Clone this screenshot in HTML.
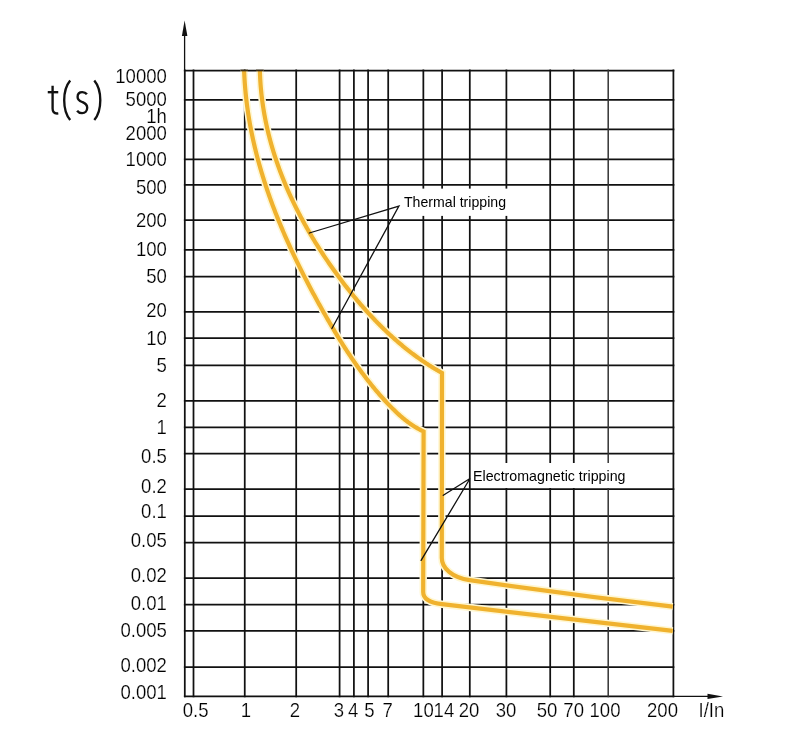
<!DOCTYPE html><html><head><meta charset="utf-8"><style>html,body{margin:0;padding:0;background:#fff;}svg{display:block;will-change:transform;}text{font-family:"Liberation Sans",sans-serif;}</style></head><body>
<svg width="800" height="743" viewBox="0 0 800 743">
<rect width="800" height="743" fill="#fff"/>
<g stroke="#111" stroke-width="1.75"><line x1="183.9" y1="70.50" x2="674.3" y2="70.50"/><line x1="183.9" y1="99.75" x2="674.3" y2="99.75"/><line x1="183.9" y1="129.40" x2="674.3" y2="129.40"/><line x1="183.9" y1="159.30" x2="674.3" y2="159.30"/><line x1="183.9" y1="184.90" x2="674.3" y2="184.90"/><line x1="183.9" y1="220.20" x2="674.3" y2="220.20"/><line x1="183.9" y1="249.90" x2="674.3" y2="249.90"/><line x1="183.9" y1="276.60" x2="674.3" y2="276.60"/><line x1="183.9" y1="311.90" x2="674.3" y2="311.90"/><line x1="183.9" y1="338.20" x2="674.3" y2="338.20"/><line x1="183.9" y1="365.40" x2="674.3" y2="365.40"/><line x1="183.9" y1="400.80" x2="674.3" y2="400.80"/><line x1="183.9" y1="427.30" x2="674.3" y2="427.30"/><line x1="183.9" y1="453.70" x2="674.3" y2="453.70"/><line x1="183.9" y1="489.00" x2="674.3" y2="489.00"/><line x1="183.9" y1="516.20" x2="674.3" y2="516.20"/><line x1="183.9" y1="542.70" x2="674.3" y2="542.70"/><line x1="183.9" y1="578.10" x2="674.3" y2="578.10"/><line x1="183.9" y1="604.50" x2="674.3" y2="604.50"/><line x1="183.9" y1="630.80" x2="674.3" y2="630.80"/><line x1="183.9" y1="667.20" x2="674.3" y2="667.20"/><line x1="183.9" y1="696.40" x2="674.3" y2="696.40"/><line x1="184.80" y1="69.6" x2="184.80" y2="697.3"/><line x1="193.50" y1="69.6" x2="193.50" y2="697.3"/><line x1="244.75" y1="69.6" x2="244.75" y2="697.3"/><line x1="296.20" y1="69.6" x2="296.20" y2="697.3"/><line x1="339.60" y1="69.6" x2="339.60" y2="697.3"/><line x1="353.90" y1="69.6" x2="353.90" y2="697.3"/><line x1="368.10" y1="69.6" x2="368.10" y2="697.3"/><line x1="388.20" y1="69.6" x2="388.20" y2="697.3"/><line x1="423.35" y1="69.6" x2="423.35" y2="697.3"/><line x1="442.10" y1="69.6" x2="442.10" y2="697.3"/><line x1="469.80" y1="69.6" x2="469.80" y2="697.3"/><line x1="506.40" y1="69.6" x2="506.40" y2="697.3"/><line x1="550.20" y1="69.6" x2="550.20" y2="697.3"/><line x1="573.80" y1="69.6" x2="573.80" y2="697.3"/><line x1="608.20" y1="69.6" x2="608.20" y2="697.3" stroke="#333" stroke-width="1.5"/><line x1="673.40" y1="69.6" x2="673.40" y2="697.3"/></g>
<g stroke="#111" stroke-width="1.3"><line x1="184.6" y1="34" x2="184.6" y2="71"/><line x1="673" y1="696.4" x2="710" y2="696.4"/></g>
<path d="M184.6 20.5 L181.9 36 L187.4 36 Z" fill="#111"/>
<path d="M723 696.4 L707.5 693.7 L707.5 699.1 Z" fill="#111"/>
<rect x="396" y="188.6" width="120" height="27.3" fill="#fff"/>
<rect x="471.2" y="463" width="165" height="25.0" fill="#fff"/>
<g stroke="#FFF7D2" stroke-width="7.40" fill="none" stroke-linejoin="miter" stroke-miterlimit="10"><path d="M 244.10 70.00 L 244.15 71.40 L 244.21 72.80 L 244.27 74.20 L 244.34 75.60 L 244.41 76.99 L 244.49 78.39 L 244.57 79.79 L 244.66 81.18 L 244.75 82.57 L 244.85 83.97 L 244.96 85.36 L 245.07 86.75 L 245.18 88.14 L 245.30 89.52 L 245.43 90.91 L 245.56 92.30 L 245.69 93.68 L 245.83 95.07 L 245.98 96.45 L 246.13 97.83 L 246.29 99.21 L 246.45 100.59 L 246.61 101.97 L 246.78 103.35 L 246.96 104.73 L 247.14 106.11 L 247.33 107.48 L 247.52 108.86 L 247.71 110.23 L 247.91 111.60 L 248.12 112.97 L 248.33 114.34 L 248.54 115.71 L 248.76 117.08 L 248.98 118.45 L 249.21 119.82 L 249.45 121.18 L 249.68 122.55 L 249.93 123.91 L 250.17 125.27 L 250.43 126.63 L 250.68 127.99 L 250.94 129.35 L 251.21 130.71 L 251.48 132.07 L 251.75 133.42 L 252.03 134.78 L 252.32 136.13 L 252.60 137.49 L 252.90 138.84 L 253.19 140.19 L 253.49 141.54 L 253.80 142.89 L 254.11 144.24 L 254.42 145.59 L 254.74 146.93 L 255.06 148.28 L 255.39 149.62 L 255.72 150.97 L 256.06 152.31 L 256.40 153.65 L 256.74 154.99 L 257.09 156.33 L 257.44 157.67 L 257.79 159.01 L 258.15 160.34 L 258.52 161.68 L 258.88 163.01 L 259.25 164.34 L 259.63 165.68 L 260.01 167.01 L 260.39 168.34 L 260.78 169.67 L 261.17 171.00 L 261.57 172.32 L 261.96 173.65 L 262.37 174.97 L 262.77 176.30 L 263.18 177.62 L 263.60 178.94 L 264.01 180.26 L 264.44 181.58 L 264.86 182.90 L 265.29 184.22 L 265.72 185.54 L 266.16 186.85 L 266.60 188.17 L 267.04 189.48 L 267.49 190.79 L 267.94 192.11 L 268.39 193.42 L 268.85 194.73 L 269.31 196.03 L 269.77 197.34 L 270.24 198.65 L 270.71 199.95 L 271.18 201.26 L 271.66 202.56 L 272.14 203.86 L 272.62 205.16 L 273.11 206.47 L 273.60 207.76 L 274.09 209.06 L 274.59 210.36 L 275.09 211.66 L 275.59 212.95 L 276.10 214.24 L 276.61 215.54 L 277.12 216.83 L 277.64 218.12 L 278.15 219.41 L 278.68 220.70 L 279.20 221.99 L 279.73 223.27 L 280.26 224.56 L 280.79 225.84 L 281.33 227.13 L 281.87 228.41 L 282.41 229.69 L 282.95 230.97 L 283.50 232.25 L 284.05 233.53 L 284.60 234.81 L 285.16 236.08 L 285.72 237.36 L 286.28 238.63 L 286.85 239.91 L 287.41 241.18 L 287.98 242.45 L 288.55 243.72 L 289.13 244.99 L 289.71 246.25 L 290.29 247.52 L 290.87 248.79 L 291.45 250.05 L 292.04 251.32 L 292.63 252.58 L 293.22 253.84 L 293.82 255.10 L 294.41 256.36 L 295.01 257.62 L 295.62 258.87 L 296.22 260.13 L 296.83 261.39 L 297.43 262.64 L 298.05 263.89 L 298.66 265.14 L 299.27 266.39 L 299.89 267.64 L 300.51 268.89 L 301.13 270.14 L 301.76 271.39 L 302.39 272.63 L 303.01 273.88 L 303.64 275.12 L 304.28 276.36 L 304.91 277.60 L 305.55 278.84 L 306.19 280.08 L 306.83 281.32 L 307.47 282.56 L 308.11 283.79 L 308.76 285.03 L 309.41 286.26 L 310.06 287.49 L 310.71 288.72 L 311.36 289.95 L 312.02 291.18 L 312.68 292.41 L 313.34 293.64 L 314.00 294.86 L 314.66 296.09 L 315.32 297.31 L 315.99 298.54 L 316.66 299.76 L 317.33 300.98 L 318.00 302.20 L 318.67 303.42 L 319.34 304.63 L 320.02 305.85 L 320.69 307.06 L 321.37 308.28 L 322.05 309.49 L 322.73 310.70 L 323.41 311.91 L 324.10 313.12 L 324.78 314.33 L 325.47 315.54 L 326.16 316.75 L 326.85 317.95 L 327.54 319.15 L 328.23 320.36 L 328.93 321.56 L 329.62 322.76 L 330.32 323.96 L 331.02 325.15 L 331.73 326.35 L 332.43 327.54 L 333.14 328.74 L 333.84 329.93 L 334.56 331.12 L 335.27 332.31 L 335.98 333.49 L 336.70 334.68 L 337.42 335.86 L 338.14 337.04 L 338.87 338.22 L 339.59 339.40 L 340.32 340.57 L 341.05 341.75 L 341.79 342.92 L 342.53 344.09 L 343.27 345.26 L 344.01 346.43 L 344.75 347.59 L 345.50 348.75 L 346.25 349.91 L 347.01 351.07 L 347.77 352.23 L 348.53 353.38 L 349.29 354.53 L 350.06 355.68 L 350.83 356.83 L 351.60 357.98 L 352.38 359.12 L 353.16 360.26 L 353.94 361.40 L 354.73 362.53 L 355.52 363.67 L 356.31 364.80 L 357.11 365.92 L 357.91 367.05 L 358.72 368.17 L 359.52 369.29 L 360.34 370.41 L 361.15 371.53 L 361.97 372.64 L 362.80 373.75 L 363.63 374.86 L 364.46 375.96 L 365.30 377.06 L 366.14 378.16 L 366.98 379.26 L 367.83 380.35 L 368.69 381.44 L 369.54 382.53 L 370.41 383.61 L 371.27 384.69 L 372.15 385.77 L 373.02 386.85 L 373.90 387.92 L 374.79 388.99 L 375.68 390.05 L 376.57 391.11 L 377.47 392.17 L 378.38 393.23 L 379.29 394.28 L 380.20 395.33 L 381.12 396.38 L 382.05 397.42 L 382.98 398.46 L 383.91 399.49 L 384.85 400.53 L 385.80 401.55 L 386.75 402.58 L 387.71 403.60 L 388.67 404.62 L 389.64 405.63 L 390.61 406.63 L 391.59 407.63 L 392.58 408.62 L 393.58 409.61 L 394.58 410.58 L 395.58 411.55 L 396.60 412.51 L 397.62 413.46 L 398.65 414.40 L 399.69 415.33 L 400.73 416.25 L 401.79 417.16 L 402.85 418.05 L 403.92 418.94 L 405.00 419.81 L 406.09 420.66 L 407.18 421.50 L 408.29 422.33 L 409.41 423.14 L 410.53 423.94 L 411.67 424.72 L 412.81 425.48 L 413.97 426.23 L 415.13 426.95 L 416.31 427.66 L 417.50 428.35 L 418.69 429.02 L 419.90 429.67 L 421.12 430.30 L 422.36 430.91 L 423.60 431.50 L 423.2 592 C 423.2 599 429 602.7 442 604.2 L 672.8 630.85"/><path d="M 259.85 70.00 L 259.88 71.24 L 259.92 72.48 L 259.96 73.72 L 260.01 74.96 L 260.07 76.20 L 260.13 77.44 L 260.19 78.67 L 260.26 79.91 L 260.34 81.14 L 260.42 82.38 L 260.50 83.61 L 260.59 84.84 L 260.69 86.07 L 260.79 87.30 L 260.90 88.53 L 261.01 89.75 L 261.13 90.98 L 261.25 92.20 L 261.38 93.43 L 261.51 94.65 L 261.65 95.87 L 261.79 97.09 L 261.94 98.31 L 262.09 99.53 L 262.25 100.75 L 262.42 101.97 L 262.58 103.18 L 262.76 104.40 L 262.93 105.61 L 263.12 106.82 L 263.31 108.03 L 263.50 109.24 L 263.70 110.45 L 263.90 111.66 L 264.11 112.86 L 264.32 114.07 L 264.54 115.27 L 264.76 116.48 L 264.98 117.68 L 265.22 118.88 L 265.45 120.08 L 265.69 121.28 L 265.94 122.48 L 266.19 123.67 L 266.44 124.87 L 266.70 126.06 L 266.97 127.25 L 267.24 128.45 L 267.51 129.64 L 267.79 130.82 L 268.07 132.01 L 268.36 133.20 L 268.65 134.39 L 268.95 135.57 L 269.25 136.75 L 269.56 137.94 L 269.86 139.12 L 270.18 140.30 L 270.50 141.47 L 270.82 142.65 L 271.15 143.83 L 271.48 145.00 L 271.82 146.18 L 272.16 147.35 L 272.50 148.52 L 272.85 149.69 L 273.21 150.86 L 273.56 152.02 L 273.93 153.19 L 274.29 154.36 L 274.66 155.52 L 275.04 156.68 L 275.42 157.84 L 275.80 159.00 L 276.19 160.16 L 276.58 161.32 L 276.98 162.47 L 277.38 163.63 L 277.78 164.78 L 278.19 165.93 L 278.60 167.08 L 279.01 168.23 L 279.43 169.38 L 279.86 170.53 L 280.29 171.67 L 280.72 172.82 L 281.15 173.96 L 281.59 175.10 L 282.04 176.24 L 282.49 177.38 L 282.94 178.52 L 283.39 179.65 L 283.85 180.79 L 284.32 181.92 L 284.78 183.05 L 285.25 184.18 L 285.73 185.31 L 286.21 186.44 L 286.69 187.56 L 287.17 188.69 L 287.66 189.81 L 288.15 190.94 L 288.65 192.06 L 289.15 193.18 L 289.66 194.29 L 290.16 195.41 L 290.67 196.52 L 291.19 197.64 L 291.71 198.75 L 292.23 199.86 L 292.75 200.97 L 293.28 202.08 L 293.82 203.18 L 294.35 204.29 L 294.89 205.39 L 295.43 206.50 L 295.98 207.60 L 296.53 208.69 L 297.08 209.79 L 297.64 210.89 L 298.20 211.98 L 298.76 213.08 L 299.33 214.17 L 299.90 215.26 L 300.47 216.35 L 301.05 217.43 L 301.62 218.52 L 302.21 219.60 L 302.79 220.69 L 303.38 221.77 L 303.97 222.85 L 304.57 223.93 L 305.17 225.00 L 305.77 226.08 L 306.37 227.15 L 306.98 228.22 L 307.59 229.29 L 308.21 230.36 L 308.82 231.43 L 309.44 232.50 L 310.07 233.56 L 310.69 234.62 L 311.32 235.68 L 311.95 236.74 L 312.59 237.80 L 313.23 238.86 L 313.87 239.91 L 314.51 240.97 L 315.16 242.02 L 315.80 243.07 L 316.46 244.12 L 317.11 245.16 L 317.77 246.21 L 318.43 247.25 L 319.09 248.29 L 319.76 249.33 L 320.43 250.37 L 321.10 251.41 L 321.77 252.44 L 322.45 253.48 L 323.13 254.51 L 323.81 255.54 L 324.49 256.57 L 325.18 257.60 L 325.87 258.62 L 326.56 259.65 L 327.26 260.67 L 327.95 261.69 L 328.65 262.71 L 329.36 263.72 L 330.06 264.74 L 330.77 265.75 L 331.48 266.76 L 332.19 267.78 L 332.90 268.78 L 333.62 269.79 L 334.34 270.80 L 335.06 271.80 L 335.79 272.80 L 336.51 273.80 L 337.24 274.80 L 337.97 275.80 L 338.70 276.79 L 339.44 277.78 L 340.18 278.77 L 340.92 279.76 L 341.66 280.75 L 342.40 281.74 L 343.15 282.72 L 343.90 283.70 L 344.65 284.68 L 345.40 285.66 L 346.16 286.64 L 346.92 287.61 L 347.68 288.58 L 348.44 289.55 L 349.21 290.52 L 349.97 291.49 L 350.74 292.45 L 351.52 293.41 L 352.29 294.37 L 353.07 295.33 L 353.85 296.28 L 354.63 297.23 L 355.42 298.18 L 356.20 299.13 L 356.99 300.08 L 357.79 301.02 L 358.58 301.96 L 359.38 302.90 L 360.18 303.83 L 360.98 304.77 L 361.79 305.70 L 362.60 306.62 L 363.41 307.55 L 364.22 308.47 L 365.04 309.39 L 365.85 310.31 L 366.67 311.22 L 367.50 312.13 L 368.32 313.04 L 369.15 313.95 L 369.99 314.85 L 370.82 315.75 L 371.66 316.65 L 372.50 317.54 L 373.34 318.44 L 374.18 319.32 L 375.03 320.21 L 375.88 321.09 L 376.74 321.97 L 377.59 322.85 L 378.45 323.72 L 379.32 324.59 L 380.18 325.46 L 381.05 326.32 L 381.92 327.18 L 382.79 328.04 L 383.67 328.89 L 384.55 329.74 L 385.43 330.59 L 386.32 331.43 L 387.20 332.27 L 388.10 333.11 L 388.99 333.94 L 389.89 334.77 L 390.79 335.60 L 391.69 336.42 L 392.60 337.24 L 393.51 338.06 L 394.42 338.87 L 395.33 339.68 L 396.25 340.48 L 397.17 341.28 L 398.10 342.08 L 399.02 342.87 L 399.95 343.66 L 400.89 344.45 L 401.82 345.23 L 402.76 346.01 L 403.71 346.78 L 404.65 347.55 L 405.60 348.32 L 406.56 349.08 L 407.51 349.84 L 408.47 350.59 L 409.43 351.34 L 410.40 352.09 L 411.37 352.83 L 412.34 353.57 L 413.31 354.30 L 414.29 355.03 L 415.27 355.75 L 416.26 356.47 L 417.25 357.19 L 418.24 357.90 L 419.24 358.61 L 420.23 359.31 L 421.24 360.01 L 422.24 360.70 L 423.25 361.39 L 424.26 362.08 L 425.28 362.76 L 426.30 363.43 L 427.32 364.11 L 428.34 364.77 L 429.37 365.43 L 430.41 366.09 L 431.44 366.74 L 432.48 367.39 L 433.52 368.03 L 434.57 368.67 L 435.62 369.31 L 436.68 369.93 L 437.73 370.56 L 438.79 371.18 L 439.86 371.79 L 440.93 372.40 L 442.00 373.00 L 441.8 558 C 441.8 568 452 577.6 469.7 580.15 Q 571.25 594.82 672.8 606.6"/></g>
<g stroke="#F0B22E" stroke-width="4.20" fill="none" stroke-linejoin="miter" stroke-miterlimit="10"><path d="M 244.10 70.00 L 244.15 71.40 L 244.21 72.80 L 244.27 74.20 L 244.34 75.60 L 244.41 76.99 L 244.49 78.39 L 244.57 79.79 L 244.66 81.18 L 244.75 82.57 L 244.85 83.97 L 244.96 85.36 L 245.07 86.75 L 245.18 88.14 L 245.30 89.52 L 245.43 90.91 L 245.56 92.30 L 245.69 93.68 L 245.83 95.07 L 245.98 96.45 L 246.13 97.83 L 246.29 99.21 L 246.45 100.59 L 246.61 101.97 L 246.78 103.35 L 246.96 104.73 L 247.14 106.11 L 247.33 107.48 L 247.52 108.86 L 247.71 110.23 L 247.91 111.60 L 248.12 112.97 L 248.33 114.34 L 248.54 115.71 L 248.76 117.08 L 248.98 118.45 L 249.21 119.82 L 249.45 121.18 L 249.68 122.55 L 249.93 123.91 L 250.17 125.27 L 250.43 126.63 L 250.68 127.99 L 250.94 129.35 L 251.21 130.71 L 251.48 132.07 L 251.75 133.42 L 252.03 134.78 L 252.32 136.13 L 252.60 137.49 L 252.90 138.84 L 253.19 140.19 L 253.49 141.54 L 253.80 142.89 L 254.11 144.24 L 254.42 145.59 L 254.74 146.93 L 255.06 148.28 L 255.39 149.62 L 255.72 150.97 L 256.06 152.31 L 256.40 153.65 L 256.74 154.99 L 257.09 156.33 L 257.44 157.67 L 257.79 159.01 L 258.15 160.34 L 258.52 161.68 L 258.88 163.01 L 259.25 164.34 L 259.63 165.68 L 260.01 167.01 L 260.39 168.34 L 260.78 169.67 L 261.17 171.00 L 261.57 172.32 L 261.96 173.65 L 262.37 174.97 L 262.77 176.30 L 263.18 177.62 L 263.60 178.94 L 264.01 180.26 L 264.44 181.58 L 264.86 182.90 L 265.29 184.22 L 265.72 185.54 L 266.16 186.85 L 266.60 188.17 L 267.04 189.48 L 267.49 190.79 L 267.94 192.11 L 268.39 193.42 L 268.85 194.73 L 269.31 196.03 L 269.77 197.34 L 270.24 198.65 L 270.71 199.95 L 271.18 201.26 L 271.66 202.56 L 272.14 203.86 L 272.62 205.16 L 273.11 206.47 L 273.60 207.76 L 274.09 209.06 L 274.59 210.36 L 275.09 211.66 L 275.59 212.95 L 276.10 214.24 L 276.61 215.54 L 277.12 216.83 L 277.64 218.12 L 278.15 219.41 L 278.68 220.70 L 279.20 221.99 L 279.73 223.27 L 280.26 224.56 L 280.79 225.84 L 281.33 227.13 L 281.87 228.41 L 282.41 229.69 L 282.95 230.97 L 283.50 232.25 L 284.05 233.53 L 284.60 234.81 L 285.16 236.08 L 285.72 237.36 L 286.28 238.63 L 286.85 239.91 L 287.41 241.18 L 287.98 242.45 L 288.55 243.72 L 289.13 244.99 L 289.71 246.25 L 290.29 247.52 L 290.87 248.79 L 291.45 250.05 L 292.04 251.32 L 292.63 252.58 L 293.22 253.84 L 293.82 255.10 L 294.41 256.36 L 295.01 257.62 L 295.62 258.87 L 296.22 260.13 L 296.83 261.39 L 297.43 262.64 L 298.05 263.89 L 298.66 265.14 L 299.27 266.39 L 299.89 267.64 L 300.51 268.89 L 301.13 270.14 L 301.76 271.39 L 302.39 272.63 L 303.01 273.88 L 303.64 275.12 L 304.28 276.36 L 304.91 277.60 L 305.55 278.84 L 306.19 280.08 L 306.83 281.32 L 307.47 282.56 L 308.11 283.79 L 308.76 285.03 L 309.41 286.26 L 310.06 287.49 L 310.71 288.72 L 311.36 289.95 L 312.02 291.18 L 312.68 292.41 L 313.34 293.64 L 314.00 294.86 L 314.66 296.09 L 315.32 297.31 L 315.99 298.54 L 316.66 299.76 L 317.33 300.98 L 318.00 302.20 L 318.67 303.42 L 319.34 304.63 L 320.02 305.85 L 320.69 307.06 L 321.37 308.28 L 322.05 309.49 L 322.73 310.70 L 323.41 311.91 L 324.10 313.12 L 324.78 314.33 L 325.47 315.54 L 326.16 316.75 L 326.85 317.95 L 327.54 319.15 L 328.23 320.36 L 328.93 321.56 L 329.62 322.76 L 330.32 323.96 L 331.02 325.15 L 331.73 326.35 L 332.43 327.54 L 333.14 328.74 L 333.84 329.93 L 334.56 331.12 L 335.27 332.31 L 335.98 333.49 L 336.70 334.68 L 337.42 335.86 L 338.14 337.04 L 338.87 338.22 L 339.59 339.40 L 340.32 340.57 L 341.05 341.75 L 341.79 342.92 L 342.53 344.09 L 343.27 345.26 L 344.01 346.43 L 344.75 347.59 L 345.50 348.75 L 346.25 349.91 L 347.01 351.07 L 347.77 352.23 L 348.53 353.38 L 349.29 354.53 L 350.06 355.68 L 350.83 356.83 L 351.60 357.98 L 352.38 359.12 L 353.16 360.26 L 353.94 361.40 L 354.73 362.53 L 355.52 363.67 L 356.31 364.80 L 357.11 365.92 L 357.91 367.05 L 358.72 368.17 L 359.52 369.29 L 360.34 370.41 L 361.15 371.53 L 361.97 372.64 L 362.80 373.75 L 363.63 374.86 L 364.46 375.96 L 365.30 377.06 L 366.14 378.16 L 366.98 379.26 L 367.83 380.35 L 368.69 381.44 L 369.54 382.53 L 370.41 383.61 L 371.27 384.69 L 372.15 385.77 L 373.02 386.85 L 373.90 387.92 L 374.79 388.99 L 375.68 390.05 L 376.57 391.11 L 377.47 392.17 L 378.38 393.23 L 379.29 394.28 L 380.20 395.33 L 381.12 396.38 L 382.05 397.42 L 382.98 398.46 L 383.91 399.49 L 384.85 400.53 L 385.80 401.55 L 386.75 402.58 L 387.71 403.60 L 388.67 404.62 L 389.64 405.63 L 390.61 406.63 L 391.59 407.63 L 392.58 408.62 L 393.58 409.61 L 394.58 410.58 L 395.58 411.55 L 396.60 412.51 L 397.62 413.46 L 398.65 414.40 L 399.69 415.33 L 400.73 416.25 L 401.79 417.16 L 402.85 418.05 L 403.92 418.94 L 405.00 419.81 L 406.09 420.66 L 407.18 421.50 L 408.29 422.33 L 409.41 423.14 L 410.53 423.94 L 411.67 424.72 L 412.81 425.48 L 413.97 426.23 L 415.13 426.95 L 416.31 427.66 L 417.50 428.35 L 418.69 429.02 L 419.90 429.67 L 421.12 430.30 L 422.36 430.91 L 423.60 431.50 L 423.2 592 C 423.2 599 429 602.7 442 604.2 L 672.8 630.85"/><path d="M 259.85 70.00 L 259.88 71.24 L 259.92 72.48 L 259.96 73.72 L 260.01 74.96 L 260.07 76.20 L 260.13 77.44 L 260.19 78.67 L 260.26 79.91 L 260.34 81.14 L 260.42 82.38 L 260.50 83.61 L 260.59 84.84 L 260.69 86.07 L 260.79 87.30 L 260.90 88.53 L 261.01 89.75 L 261.13 90.98 L 261.25 92.20 L 261.38 93.43 L 261.51 94.65 L 261.65 95.87 L 261.79 97.09 L 261.94 98.31 L 262.09 99.53 L 262.25 100.75 L 262.42 101.97 L 262.58 103.18 L 262.76 104.40 L 262.93 105.61 L 263.12 106.82 L 263.31 108.03 L 263.50 109.24 L 263.70 110.45 L 263.90 111.66 L 264.11 112.86 L 264.32 114.07 L 264.54 115.27 L 264.76 116.48 L 264.98 117.68 L 265.22 118.88 L 265.45 120.08 L 265.69 121.28 L 265.94 122.48 L 266.19 123.67 L 266.44 124.87 L 266.70 126.06 L 266.97 127.25 L 267.24 128.45 L 267.51 129.64 L 267.79 130.82 L 268.07 132.01 L 268.36 133.20 L 268.65 134.39 L 268.95 135.57 L 269.25 136.75 L 269.56 137.94 L 269.86 139.12 L 270.18 140.30 L 270.50 141.47 L 270.82 142.65 L 271.15 143.83 L 271.48 145.00 L 271.82 146.18 L 272.16 147.35 L 272.50 148.52 L 272.85 149.69 L 273.21 150.86 L 273.56 152.02 L 273.93 153.19 L 274.29 154.36 L 274.66 155.52 L 275.04 156.68 L 275.42 157.84 L 275.80 159.00 L 276.19 160.16 L 276.58 161.32 L 276.98 162.47 L 277.38 163.63 L 277.78 164.78 L 278.19 165.93 L 278.60 167.08 L 279.01 168.23 L 279.43 169.38 L 279.86 170.53 L 280.29 171.67 L 280.72 172.82 L 281.15 173.96 L 281.59 175.10 L 282.04 176.24 L 282.49 177.38 L 282.94 178.52 L 283.39 179.65 L 283.85 180.79 L 284.32 181.92 L 284.78 183.05 L 285.25 184.18 L 285.73 185.31 L 286.21 186.44 L 286.69 187.56 L 287.17 188.69 L 287.66 189.81 L 288.15 190.94 L 288.65 192.06 L 289.15 193.18 L 289.66 194.29 L 290.16 195.41 L 290.67 196.52 L 291.19 197.64 L 291.71 198.75 L 292.23 199.86 L 292.75 200.97 L 293.28 202.08 L 293.82 203.18 L 294.35 204.29 L 294.89 205.39 L 295.43 206.50 L 295.98 207.60 L 296.53 208.69 L 297.08 209.79 L 297.64 210.89 L 298.20 211.98 L 298.76 213.08 L 299.33 214.17 L 299.90 215.26 L 300.47 216.35 L 301.05 217.43 L 301.62 218.52 L 302.21 219.60 L 302.79 220.69 L 303.38 221.77 L 303.97 222.85 L 304.57 223.93 L 305.17 225.00 L 305.77 226.08 L 306.37 227.15 L 306.98 228.22 L 307.59 229.29 L 308.21 230.36 L 308.82 231.43 L 309.44 232.50 L 310.07 233.56 L 310.69 234.62 L 311.32 235.68 L 311.95 236.74 L 312.59 237.80 L 313.23 238.86 L 313.87 239.91 L 314.51 240.97 L 315.16 242.02 L 315.80 243.07 L 316.46 244.12 L 317.11 245.16 L 317.77 246.21 L 318.43 247.25 L 319.09 248.29 L 319.76 249.33 L 320.43 250.37 L 321.10 251.41 L 321.77 252.44 L 322.45 253.48 L 323.13 254.51 L 323.81 255.54 L 324.49 256.57 L 325.18 257.60 L 325.87 258.62 L 326.56 259.65 L 327.26 260.67 L 327.95 261.69 L 328.65 262.71 L 329.36 263.72 L 330.06 264.74 L 330.77 265.75 L 331.48 266.76 L 332.19 267.78 L 332.90 268.78 L 333.62 269.79 L 334.34 270.80 L 335.06 271.80 L 335.79 272.80 L 336.51 273.80 L 337.24 274.80 L 337.97 275.80 L 338.70 276.79 L 339.44 277.78 L 340.18 278.77 L 340.92 279.76 L 341.66 280.75 L 342.40 281.74 L 343.15 282.72 L 343.90 283.70 L 344.65 284.68 L 345.40 285.66 L 346.16 286.64 L 346.92 287.61 L 347.68 288.58 L 348.44 289.55 L 349.21 290.52 L 349.97 291.49 L 350.74 292.45 L 351.52 293.41 L 352.29 294.37 L 353.07 295.33 L 353.85 296.28 L 354.63 297.23 L 355.42 298.18 L 356.20 299.13 L 356.99 300.08 L 357.79 301.02 L 358.58 301.96 L 359.38 302.90 L 360.18 303.83 L 360.98 304.77 L 361.79 305.70 L 362.60 306.62 L 363.41 307.55 L 364.22 308.47 L 365.04 309.39 L 365.85 310.31 L 366.67 311.22 L 367.50 312.13 L 368.32 313.04 L 369.15 313.95 L 369.99 314.85 L 370.82 315.75 L 371.66 316.65 L 372.50 317.54 L 373.34 318.44 L 374.18 319.32 L 375.03 320.21 L 375.88 321.09 L 376.74 321.97 L 377.59 322.85 L 378.45 323.72 L 379.32 324.59 L 380.18 325.46 L 381.05 326.32 L 381.92 327.18 L 382.79 328.04 L 383.67 328.89 L 384.55 329.74 L 385.43 330.59 L 386.32 331.43 L 387.20 332.27 L 388.10 333.11 L 388.99 333.94 L 389.89 334.77 L 390.79 335.60 L 391.69 336.42 L 392.60 337.24 L 393.51 338.06 L 394.42 338.87 L 395.33 339.68 L 396.25 340.48 L 397.17 341.28 L 398.10 342.08 L 399.02 342.87 L 399.95 343.66 L 400.89 344.45 L 401.82 345.23 L 402.76 346.01 L 403.71 346.78 L 404.65 347.55 L 405.60 348.32 L 406.56 349.08 L 407.51 349.84 L 408.47 350.59 L 409.43 351.34 L 410.40 352.09 L 411.37 352.83 L 412.34 353.57 L 413.31 354.30 L 414.29 355.03 L 415.27 355.75 L 416.26 356.47 L 417.25 357.19 L 418.24 357.90 L 419.24 358.61 L 420.23 359.31 L 421.24 360.01 L 422.24 360.70 L 423.25 361.39 L 424.26 362.08 L 425.28 362.76 L 426.30 363.43 L 427.32 364.11 L 428.34 364.77 L 429.37 365.43 L 430.41 366.09 L 431.44 366.74 L 432.48 367.39 L 433.52 368.03 L 434.57 368.67 L 435.62 369.31 L 436.68 369.93 L 437.73 370.56 L 438.79 371.18 L 439.86 371.79 L 440.93 372.40 L 442.00 373.00 L 441.8 558 C 441.8 568 452 577.6 469.7 580.15 Q 571.25 594.82 672.8 606.6"/></g>
<g stroke="#3a2c12" stroke-width="1.75"><line x1="240.5" y1="70.5" x2="248" y2="70.5"/><line x1="256" y1="70.5" x2="263.7" y2="70.5"/></g>
<g stroke="#111" stroke-width="1.3" fill="none" stroke-linecap="round"><path d="M309.3 233 L398.9 206.1 L331.9 328.5"/><path d="M443.3 495.3 L470 478.5 L421.1 560.4"/></g>
<text x="404" y="206.9" font-size="14.6" textLength="102" lengthAdjust="spacingAndGlyphs" fill="#000">Thermal tripping</text>
<text x="473" y="480.9" font-size="14.6" textLength="152.5" lengthAdjust="spacingAndGlyphs" fill="#000">Electromagnetic tripping</text>
<g transform="scale(0.910 1)" font-size="20.4" fill="#000" stroke="#fff" stroke-width="0.22"><text x="183.41" y="83.00" text-anchor="end">10000</text><text x="183.41" y="105.60" text-anchor="end">5000</text><text x="183.41" y="122.80" text-anchor="end">1h</text><text x="183.41" y="139.70" text-anchor="end">2000</text><text x="183.41" y="166.10" text-anchor="end">1000</text><text x="183.41" y="193.60" text-anchor="end">500</text><text x="183.41" y="227.30" text-anchor="end">200</text><text x="183.41" y="255.60" text-anchor="end">100</text><text x="183.41" y="283.50" text-anchor="end">50</text><text x="183.41" y="316.80" text-anchor="end">20</text><text x="183.41" y="344.60" text-anchor="end">10</text><text x="183.41" y="372.10" text-anchor="end">5</text><text x="183.41" y="407.10" text-anchor="end">2</text><text x="183.41" y="434.30" text-anchor="end">1</text><text x="183.41" y="462.80" text-anchor="end">0.5</text><text x="183.41" y="492.50" text-anchor="end">0.2</text><text x="183.41" y="518.10" text-anchor="end">0.1</text><text x="183.41" y="546.80" text-anchor="end">0.05</text><text x="183.41" y="582.50" text-anchor="end">0.02</text><text x="183.41" y="609.80" text-anchor="end">0.01</text><text x="183.41" y="637.40" text-anchor="end">0.005</text><text x="183.41" y="672.20" text-anchor="end">0.002</text><text x="183.41" y="698.80" text-anchor="end">0.001</text></g>
<g transform="scale(0.910 1)" font-size="20.4" fill="#000" stroke="#fff" stroke-width="0.22"><text x="214.95" y="717.3" text-anchor="middle">0.5</text><text x="270.33" y="717.3" text-anchor="middle">1</text><text x="324.07" y="717.3" text-anchor="middle">2</text><text x="372.53" y="717.3" text-anchor="middle">3</text><text x="388.19" y="717.3" text-anchor="middle">4</text><text x="406.04" y="717.3" text-anchor="middle">5</text><text x="426.10" y="717.3" text-anchor="middle">7</text><text x="465.33" y="717.3" text-anchor="middle">10</text><text x="487.80" y="717.3" text-anchor="middle">14</text><text x="515.49" y="717.3" text-anchor="middle">20</text><text x="556.04" y="717.3" text-anchor="middle">30</text><text x="601.21" y="717.3" text-anchor="middle">50</text><text x="630.44" y="717.3" text-anchor="middle">70</text><text x="664.84" y="717.3" text-anchor="middle">100</text><text x="728.02" y="717.3" text-anchor="middle">200</text><text x="781.76" y="717.3" text-anchor="middle">I/In</text></g>
<g fill="none" stroke="#111" stroke-width="2.35"><path d="M52.6 85.75 L52.6 108.6 Q52.6 113.5 57 113.5 L58.3 113.3"/><path d="M47.75 92.2 L58.25 92.2"/><path d="M70.2 80.4 C62.2 90 62.2 110.4 70.2 120"/><path d="M94.3 80.4 C102.3 90 102.3 110.4 94.3 120"/><path d="M86.9 94.3 C85.8 92.8 84.3 92.1 82.3 92.1 C79.4 92.1 77.6 94 77.6 96.9 C77.6 100.3 80.5 101.3 82.6 102.2 C85 103.2 87.2 104.5 87.2 107.8 C87.2 111.2 85 113.15 82.1 113.15 C79.9 113.15 78.2 112.3 77.1 110.8"/></g>
</svg></body></html>
